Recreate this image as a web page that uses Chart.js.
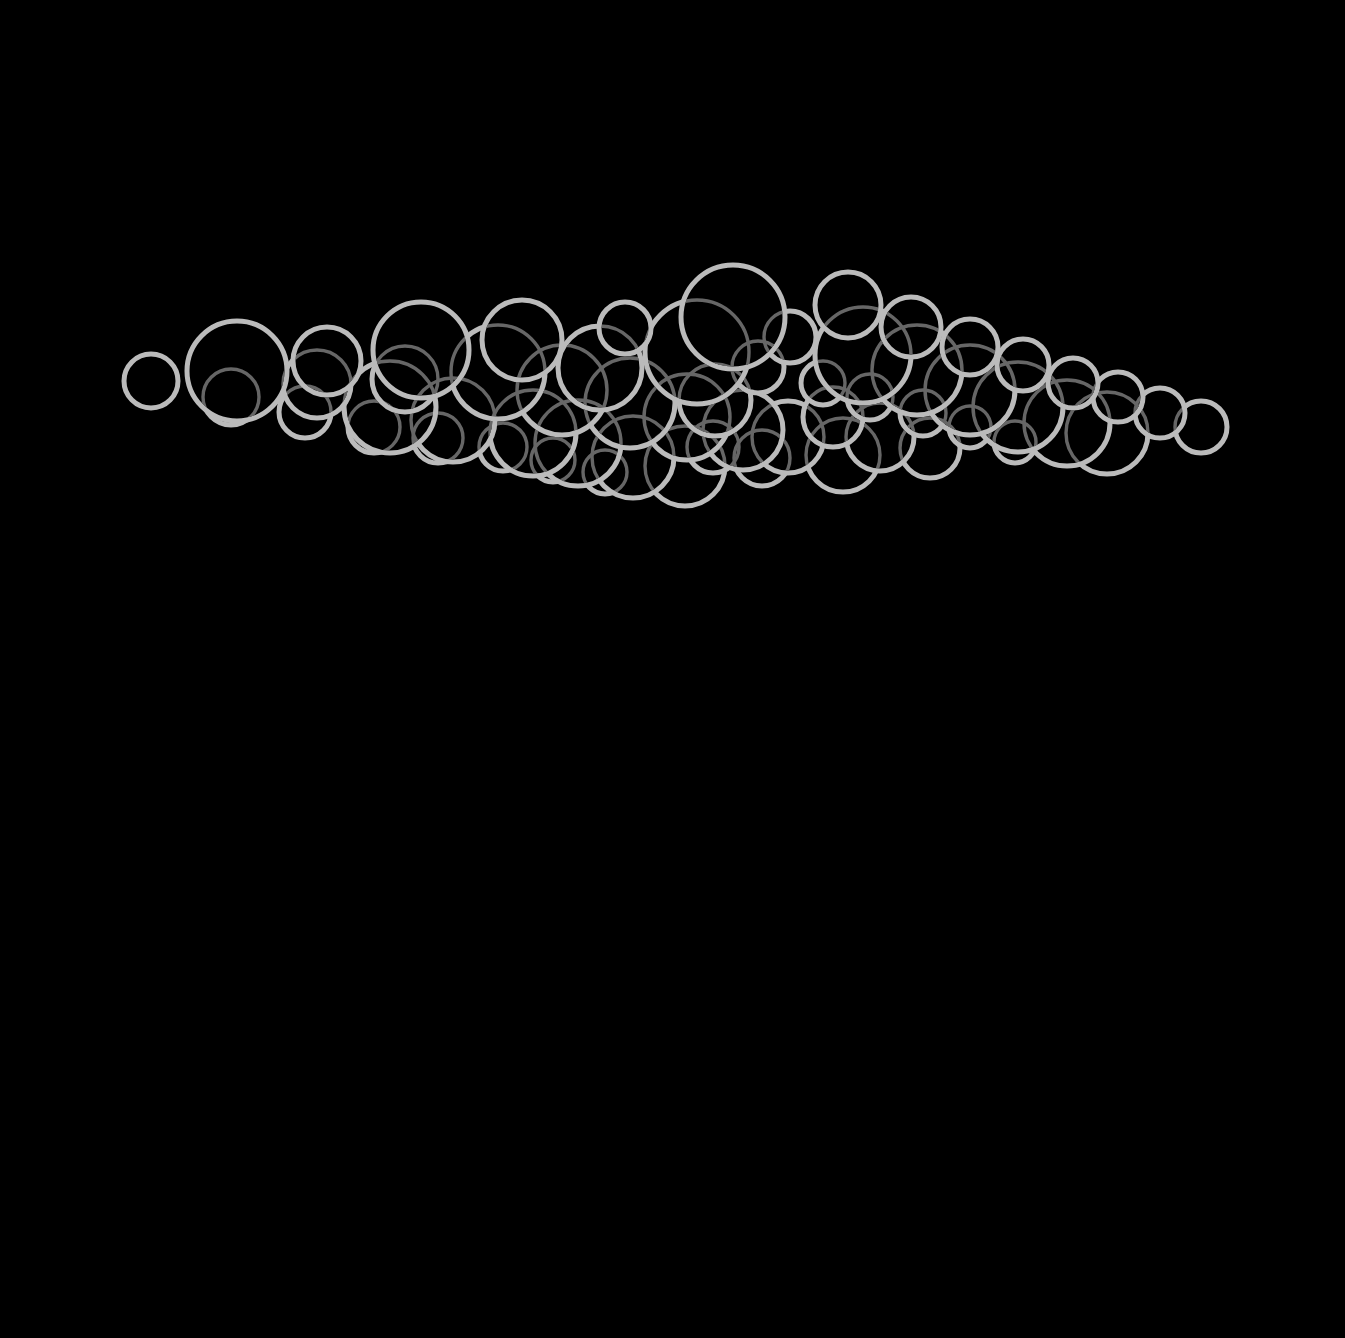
<!DOCTYPE html>
<html>
<head>
<meta charset="utf-8">
<title>Bubbles</title>
<script src="https://cdn.jsdelivr.net/npm/chart.js@4.4.1/dist/chart.umd.min.js"></script>
<style>
  html,body{margin:0;padding:0;background:#000;}
  #wrap{width:1345px;height:1338px;}
  canvas{display:block;}
</style>
</head>
<body>
<div id="wrap"><canvas id="c" width="1345" height="1338"></canvas></div>
<script>
/* bubble data, listed in drawing order (lowest first, top row last) */
const bubbleX = [605,685,553,762,633,843,930,713,503,578,1015,438,880,788,533,1107,743,374,970,1201,
                 1067,453,687,833,923,1160,305,390,1018,630,715,231,870,1118,562,970,317,823,1073,151,
                 405,498,237,917,600,758,1023,327,863,697,421,970,522,790,625,911,733,848];
const bubbleY = [472,466,460,458,457,455,448,447,447,443,442,438,437,437,433,433,430,427,427,427,
                 423,420,417,417,413,413,412,407,407,403,400,397,397,397,390,390,384,383,383,381,
                 379,372,371,370,368,367,365,361,355,352,350,347,340,337,328,327,317,305];
const bubbleR = [22,40,22,28,41,37,30,26,24,43,21,25,34,36,43,41,40,26,21,26,
                 43,42,43,30,23,25,26,46,45,45,36,28,23,25,45,45,34,22,25,27,
                 33,47,50,45,42,26,26,34,48,52,48,28,40,26,26,30,52,33];

const ringColor = '#bbbbbb';
const shadeColor = '#666666';

const points = bubbleX.map((x,i)=>({x:x, y:bubbleY[i], r:bubbleR[i]}));

// the thin dark rings only show where a later bubble hides the light one
const lightenPlugin = {
  id:'lightenRings',
  beforeDatasetDraw(chart, args){
    if(args.index === 1){
      chart.ctx.save();
      chart.ctx.globalCompositeOperation = 'lighten';
    }
  },
  afterDatasetDraw(chart, args){
    if(args.index === 1) chart.ctx.restore();
  }
};

const ctx = document.getElementById('c');
new Chart(ctx, {
  type:'bubble',
  data:{ datasets:[
    { data: points, order:2, backgroundColor:'#000000', borderColor: ringColor,
      borderWidth:5, hoverRadius:0, hoverBorderWidth:5, clip:false },
    { data: points, order:1, backgroundColor:'rgba(0,0,0,0)', borderColor: shadeColor,
      borderWidth:3.4, hoverRadius:0, hoverBorderWidth:3.4, clip:false }
  ]},
  options:{
    responsive:false,
    devicePixelRatio:1,
    animation:false,
    events:[],
    layout:{padding:0, autoPadding:false},
    plugins:{ legend:{display:false}, tooltip:{enabled:false} },
    scales:{
      x:{ type:'linear', display:false, min:0, max:1345 },
      y:{ type:'linear', display:false, min:0, max:1338, reverse:true }
    }
  },
  plugins:[lightenPlugin]
});
</script>
</body>
</html>
